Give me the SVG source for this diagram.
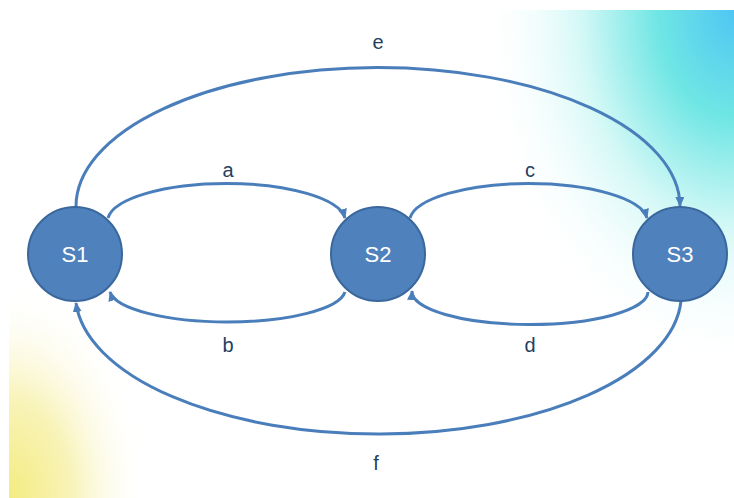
<svg xmlns="http://www.w3.org/2000/svg" width="734" height="498" viewBox="0 0 734 498">
  <defs>
    <radialGradient id="cyan" cx="1" cy="0" r="1" fx="1" fy="0">
      <stop offset="0" stop-color="#4FC6F3"/>
      <stop offset="0.3" stop-color="#6FE6E4"/>
      <stop offset="0.6" stop-color="#D2F8F6"/>
      <stop offset="1" stop-color="#FFFFFF" stop-opacity="0"/>
    </radialGradient>
    <radialGradient id="yellow" cx="0" cy="1" r="1" fx="0" fy="1">
      <stop offset="0" stop-color="#F4EC80"/>
      <stop offset="0.45" stop-color="#F8F3B8"/>
      <stop offset="1" stop-color="#FFFFFF" stop-opacity="0"/>
    </radialGradient>
    <marker id="arr" markerWidth="12" markerHeight="10" refX="9" refY="4.5" orient="auto" markerUnits="userSpaceOnUse">
      <path d="M0,0 L10,4.5 L0,9 Z" fill="#4A7EBB"/>
    </marker>
  </defs>
  <style>
    .edge { fill: none; stroke: #4A7EBB; stroke-width: 3; marker-end: url(#arr); }
    .node circle { fill: #4F81BD; stroke: #3A679C; stroke-width: 2; }
    .node text { fill: #FFFFFF; font-family: "Liberation Sans", Arial, sans-serif; font-size: 22px; text-anchor: middle; }
    .lbl { fill: #243F60; font-family: "Liberation Sans", Arial, sans-serif; font-size: 20px; text-anchor: middle; }
  </style>
  <rect x="0" y="0" width="734" height="498" fill="#FFFFFF"/>
  <rect x="480" y="10" width="254" height="360" fill="url(#cyan)"/>
  <rect x="9" y="280" width="140" height="218" fill="url(#yellow)"/>

  <g id="connectors">
    <path id="edge-e" class="edge" d="M76,207 A302,139 0 0,1 680,206"/>
    <path id="edge-f" class="edge" d="M681,301 A303,140 0 0,1 76,303"/>
    <path id="edge-a" class="edge" d="M108,218 A119,38 0 0,1 345,218"/>
    <path id="edge-c" class="edge" d="M410,218 A119,38 0 0,1 647,218"/>
    <path id="edge-b" class="edge" d="M345,292 A118,33 0 0,1 110,292"/>
    <path id="edge-d" class="edge" d="M648,292 A118,33 0 0,1 412,291"/>
    <text class="lbl" x="378" y="49">e</text>
    <text class="lbl" x="228" y="177">a</text>
    <text class="lbl" x="530" y="177">c</text>
    <text class="lbl" x="228" y="352">b</text>
    <text class="lbl" x="530" y="352">d</text>
    <text class="lbl" x="376" y="470">f</text>
  </g>

  <g id="S1" class="node">
    <circle cx="75" cy="254" r="47"/>
    <text x="75" y="262">S1</text>
  </g>
  <g id="S2" class="node">
    <circle cx="378" cy="254" r="47"/>
    <text x="378" y="262">S2</text>
  </g>
  <g id="S3" class="node">
    <circle cx="680" cy="254" r="47"/>
    <text x="680" y="262">S3</text>
  </g>
</svg>
